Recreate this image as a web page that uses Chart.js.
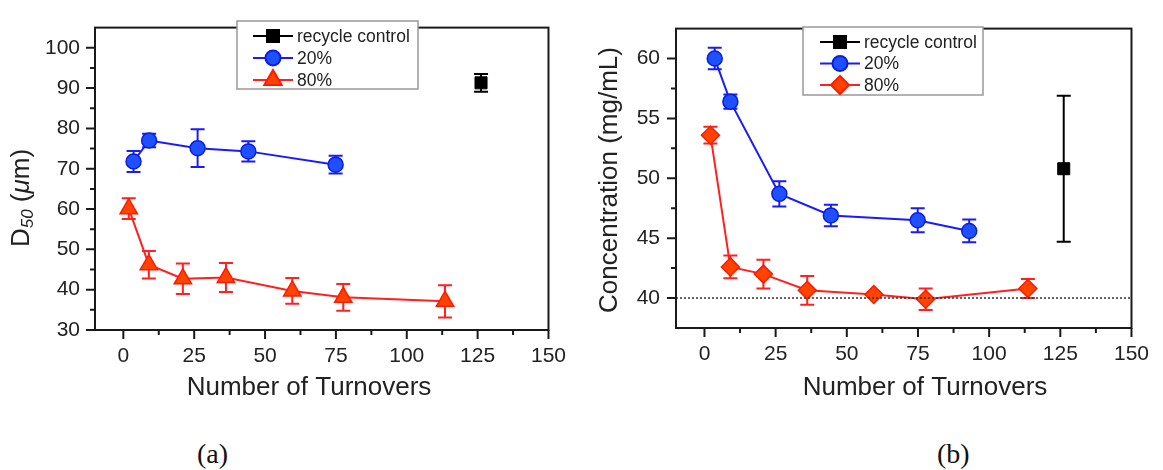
<!DOCTYPE html>
<html>
<head>
<meta charset="utf-8">
<script src="https://cdn.jsdelivr.net/npm/chart.js@4.4.0/dist/chart.umd.min.js"></script>
<style>
    body { margin: 0; background: #fff; width: 1163px; height: 470px; overflow: hidden; position: relative; }
    canvas { position: absolute; top: 0; }
    #chartA { left: 0; }
    #chartB { left: 580px; }
    .panel { position: absolute; top: 436px; line-height: 36px; font-family: "Liberation Serif", "Times New Roman", serif; font-size: 28px; color: #111; }
</style>
</head>
<body>
<canvas id="chartA" width="580" height="420"></canvas>
<canvas id="chartB" width="583" height="420"></canvas>
<div class="panel" style="left:197px">(a)</div>
<div class="panel" style="left:937px">(b)</div>
<script>
// Shared
const seriesLabels = ['recycle control', '20%', '80%'];
const xTitle = 'Number of Turnovers';
const xMajorTicks = [0, 25, 50, 75, 100, 125, 150];
const xMinorTicks = [12.5, 37.5, 62.5, 87.5, 112.5, 137.5];

// (a) particle size D50
const sizeControlX = [126.2];
const sizeControlY = [91.3];
const sizeControlErr = [2.2];
const size20X = [3.6, 9.1, 26.2, 44.1, 74.9];
const size20Y = [71.8, 77.0, 75.1, 74.3, 71.0];
const size20Err = [2.6, 1.7, 4.7, 2.5, 2.2];
const size80X = [1.9, 9.0, 21.0, 36.2, 59.6, 77.6, 113.5];
const size80Y = [60.1, 46.2, 42.7, 43.0, 39.7, 38.1, 37.1];
const size80Err = [2.6, 3.4, 3.8, 3.6, 3.2, 3.3, 4.0];
const sizeYMajor = [30, 40, 50, 60, 70, 80, 90, 100];
const sizeYMinor = [35, 45, 55, 65, 75, 85, 95];

// (b) concentration
const concControlX = [126.2];
const concControlY = [50.8];
const concControlErr = [6.1];
const conc20X = [3.6, 9.1, 26.3, 44.4, 74.9, 93.0];
const conc20Y = [60.0, 56.4, 48.7, 46.9, 46.5, 45.6];
const conc20Err = [0.9, 0.6, 1.05, 0.9, 1.0, 0.95];
const conc80X = [2.1, 9.1, 20.7, 36.1, 59.5, 77.7, 113.6];
const conc80Y = [53.6, 42.6, 42.0, 40.65, 40.3, 39.9, 40.8];
const conc80Err = [0.7, 0.95, 1.2, 1.2, 0.2, 0.9, 0.8];
const concYMajor = [40, 45, 50, 55, 60];
const concYMinor = [42.5, 47.5, 52.5, 57.5];
const concLimit = 40;

const FONT = '"Liberation Sans", Arial, sans-serif';
Chart.defaults.font.family = FONT;
Chart.defaults.color = '#222';

function toPoints(xs, ys) {
    return xs.map((x, i) => ({x: x, y: ys[i]}));
}

// Error bars, drawn under the markers
const errorBars = {
    id: 'errorBars',
    beforeDatasetsDraw(chart) {
        const ctx = chart.ctx;
        const xs = chart.scales.x, ys = chart.scales.y;
        chart.data.datasets.forEach(ds => {
            if (!ds.errors) return;
            ctx.save();
            ctx.strokeStyle = ds.errorColor;
            ctx.lineWidth = 2;
            ds.data.forEach((p, j) => {
                const px = xs.getPixelForValue(p.x);
                const top = ys.getPixelForValue(p.y + ds.errors[j]);
                const bot = ys.getPixelForValue(p.y - ds.errors[j]);
                ctx.beginPath();
                ctx.moveTo(px, top); ctx.lineTo(px, bot);
                ctx.moveTo(px - 7, top); ctx.lineTo(px + 7, top);
                ctx.moveTo(px - 7, bot); ctx.lineTo(px + 7, bot);
                ctx.stroke();
            });
            ctx.restore();
        });
    }
};

// Box frame with outward tick marks
const frame = {
    id: 'frame',
    afterDraw(chart, args, opts) {
        const ctx = chart.ctx, a = chart.chartArea;
        const xs = chart.scales.x, ys = chart.scales.y;
        ctx.save();
        ctx.strokeStyle = '#1a1a1a';
        ctx.lineWidth = 2;
        ctx.strokeRect(a.left, a.top, a.right - a.left, a.bottom - a.top);
        ctx.beginPath();
        opts.xMajor.forEach(v => { const p = xs.getPixelForValue(v); ctx.moveTo(p, a.bottom); ctx.lineTo(p, a.bottom + 9); });
        opts.xMinor.forEach(v => { const p = xs.getPixelForValue(v); ctx.moveTo(p, a.bottom); ctx.lineTo(p, a.bottom + 5); });
        opts.yMajor.forEach(v => { const p = ys.getPixelForValue(v); ctx.moveTo(a.left, p); ctx.lineTo(a.left - 9, p); });
        opts.yMinor.forEach(v => { const p = ys.getPixelForValue(v); ctx.moveTo(a.left, p); ctx.lineTo(a.left - 5, p); });
        ctx.stroke();
        ctx.restore();
    }
};

// Legend box with line + marker samples
const boxLegend = {
    id: 'boxLegend',
    afterDraw(chart, args, opts) {
        const ctx = chart.ctx;
        ctx.save();
        ctx.fillStyle = '#fff';
        ctx.fillRect(opts.box[0], opts.box[1], opts.box[2], opts.box[3]);
        ctx.strokeStyle = '#999';
        ctx.lineWidth = 1.5;
        ctx.strokeRect(opts.box[0], opts.box[1], opts.box[2], opts.box[3]);
        const items = chart.data.datasets.filter(ds => ds.inLegend);
        items.forEach((ds, i) => {
            const y = opts.rows[i];
            ctx.strokeStyle = ds.borderColor;
            ctx.lineWidth = 2;
            ctx.beginPath();
            ctx.moveTo(opts.line[0], y);
            ctx.lineTo(opts.line[1], y);
            ctx.stroke();
            ctx.fillStyle = ds.pointBackgroundColor;
            ctx.strokeStyle = ds.pointBorderColor;
            Chart.helpers.drawPoint(ctx, {
                pointStyle: ds.pointStyle,
                radius: ds.pointRadius,
                rotation: 0,
                borderWidth: ds.pointBorderWidth
            }, (opts.line[0] + opts.line[1]) / 2, y);
            ctx.fillStyle = '#222';
            ctx.font = '17.5px ' + FONT;
            ctx.textAlign = 'left';
            ctx.textBaseline = 'middle';
            ctx.fillText(ds.label, opts.textX, y + 1);
        });
        ctx.restore();
    }
};

// Axis titles (y title may hold subscript / italic runs)
const axisTitles = {
    id: 'axisTitles',
    afterDraw(chart, args, opts) {
        const ctx = chart.ctx;
        ctx.save();
        ctx.fillStyle = '#222';
        ctx.textBaseline = 'middle';
        ctx.textAlign = 'center';
        ctx.font = '26px ' + FONT;
        ctx.fillText(opts.xText, opts.xPos[0], opts.xPos[1]);

        ctx.translate(opts.yPos[0], opts.yPos[1]);
        ctx.rotate(-Math.PI / 2);
        ctx.textAlign = 'left';
        const fontOf = r => (r.italic ? 'italic ' : '') + (r.size || 26) + 'px ' + FONT;
        let total = 0;
        opts.yRuns.forEach(r => { ctx.font = fontOf(r); total += ctx.measureText(r.t).width; });
        let x = -total / 2;
        opts.yRuns.forEach(r => {
            ctx.font = fontOf(r);
            ctx.fillText(r.t, x, r.dy || 0);
            x += ctx.measureText(r.t).width;
        });
        ctx.restore();
    }
};

function makeScales(yMin, yMax, yTicks, yWidth, xHeight, yPad) {
    return {
        x: {
            type: 'linear',
            min: -10,
            max: 150,
            grid: {display: false, drawTicks: false},
            border: {display: false},
            ticks: {font: {size: 21}, padding: 14, color: '#222'},
            afterBuildTicks: s => { s.ticks = xMajorTicks.map(v => ({value: v})); },
            afterFit: s => { s.height = xHeight; }
        },
        y: {
            type: 'linear',
            min: yMin,
            max: yMax,
            grid: {display: false, drawTicks: false},
            border: {display: false},
            ticks: {font: {size: 21}, padding: yPad, color: '#222'},
            afterBuildTicks: s => { s.ticks = yTicks.map(v => ({value: v})); },
            afterFit: s => { s.width = yWidth; }
        }
    };
}

const blueSeries = {
    label: seriesLabels[1], inLegend: true, showLine: true,
    borderColor: '#1a1aff', borderWidth: 2,
    pointStyle: 'circle', pointRadius: 7.5,
    pointBackgroundColor: '#1f50ff', pointBorderColor: '#0a1ee0', pointBorderWidth: 1.5,
    errorColor: '#1a1aff'
};
const redSeries = {
    label: seriesLabels[2], inLegend: true, showLine: true,
    borderColor: '#ff2020', borderWidth: 2,
    pointBackgroundColor: '#ff4400', pointBorderColor: '#ff1a00', pointBorderWidth: 1.5,
    errorColor: '#ff2020'
};
const blackSeries = {
    label: seriesLabels[0], inLegend: true, showLine: false,
    borderColor: '#000', borderWidth: 2,
    pointStyle: 'rect', pointRadius: 8.5,
    pointBackgroundColor: '#000', pointBorderColor: '#000', pointBorderWidth: 1,
    errorColor: '#000'
};

new Chart(document.getElementById('chartA'), {
    type: 'scatter',
    data: {
        datasets: [
            Object.assign({}, blackSeries, {data: toPoints(sizeControlX, sizeControlY), errors: sizeControlErr}),
            Object.assign({}, blueSeries, {data: toPoints(size20X, size20Y), errors: size20Err}),
            Object.assign({}, redSeries, {data: toPoints(size80X, size80Y), errors: size80Err,
                pointStyle: 'triangle', pointRadius: 10})
        ]
    },
    options: {
        responsive: false,
        animation: false,
        events: [],
        layout: {padding: {left: 0, top: 15, right: 15, bottom: 0}},
        scales: makeScales(30, 105, sizeYMajor, 95, 90, 15),
        plugins: {
            legend: {display: false},
            tooltip: {enabled: false},
            frame: {xMajor: xMajorTicks, xMinor: xMinorTicks, yMajor: sizeYMajor, yMinor: sizeYMinor},
            boxLegend: {box: [237, 21, 181, 68], rows: [36, 58, 80], line: [253, 293], textX: 297},
            axisTitles: {
                xText: xTitle, xPos: [309, 388],
                yPos: [22, 198],
                yRuns: [{t: 'D'}, {t: '50', size: 17, italic: true, dy: 6}, {t: ' ('}, {t: 'μ', italic: true}, {t: 'm)'}]
            }
        }
    },
    plugins: [errorBars, frame, boxLegend, axisTitles]
});

new Chart(document.getElementById('chartB'), {
    type: 'scatter',
    data: {
        datasets: [
            {
                label: 'limit', inLegend: false, showLine: true,
                data: toPoints([-10, 150], [concLimit, concLimit]),
                borderColor: '#333', borderWidth: 1.5, borderDash: [2, 2], pointRadius: 0
            },
            Object.assign({}, blackSeries, {data: toPoints(concControlX, concControlY), errors: concControlErr}),
            Object.assign({}, blueSeries, {data: toPoints(conc20X, conc20Y), errors: conc20Err}),
            Object.assign({}, redSeries, {data: toPoints(conc80X, conc80Y), errors: conc80Err,
                pointStyle: 'rectRot', pointRadius: 9})
        ]
    },
    options: {
        responsive: false,
        animation: false,
        events: [],
        layout: {padding: {left: 0, top: 16, right: 20, bottom: 0}},
        scales: makeScales(37.5, 62.5, concYMajor, 96, 92, 16),
        plugins: {
            legend: {display: false},
            tooltip: {enabled: false},
            frame: {xMajor: xMajorTicks, xMinor: xMinorTicks, yMajor: concYMajor, yMinor: concYMinor},
            boxLegend: {box: [223, 27, 180, 68], rows: [42, 63.5, 85], line: [240, 280], textX: 284},
            axisTitles: {
                xText: xTitle, xPos: [345, 388],
                yPos: [30, 180],
                yRuns: [{t: 'Concentration (mg/mL)'}]
            }
        }
    },
    plugins: [errorBars, frame, boxLegend, axisTitles]
});
</script>
</body>
</html>
